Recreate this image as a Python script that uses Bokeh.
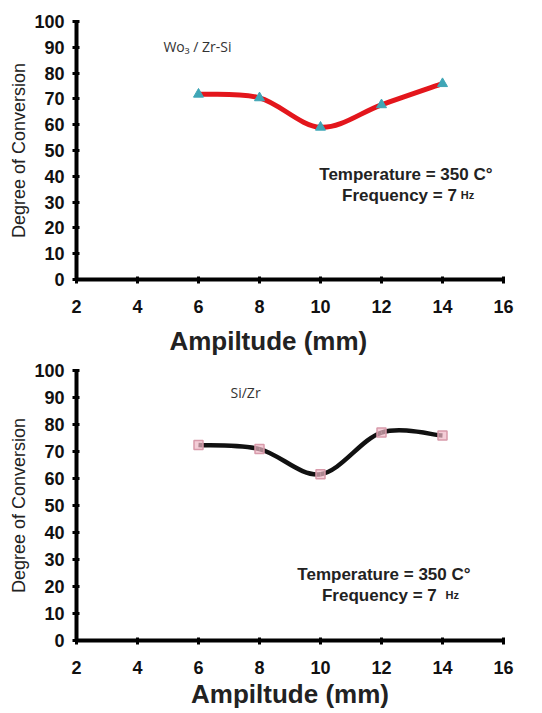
from bokeh.plotting import figure
from bokeh.layouts import column
from bokeh.models import Label, SingleIntervalTicker, Range1d
from bokeh.embed import file_html
from bokeh.resources import INLINE

# ---- data ----
amplitude = [6, 8, 10, 12, 14]
conv_wo3 = [71.8, 70.4, 59.0, 67.7, 75.9]
conv_sizr = [72.4, 70.9, 61.6, 77.0, 75.9]
x_ticks_interval = 2
y_ticks_interval = 10
x_title = "Ampiltude (mm)"
y_title = "Degree of Conversion"


def bezier_segments(xs, ys):
    """Catmull-Rom style smooth segments (like a spreadsheet 'smoothed line')."""
    n = len(xs)
    seg = dict(x0=[], y0=[], x1=[], y1=[], cx0=[], cy0=[], cx1=[], cy1=[])
    for i in range(n - 1):
        ip = max(i - 1, 0)
        inn = min(i + 2, n - 1)
        seg["x0"].append(xs[i]); seg["y0"].append(ys[i])
        seg["x1"].append(xs[i + 1]); seg["y1"].append(ys[i + 1])
        seg["cx0"].append(xs[i] + (xs[i + 1] - xs[ip]) / 6.0)
        seg["cy0"].append(ys[i] + (ys[i + 1] - ys[ip]) / 6.0)
        seg["cx1"].append(xs[i + 1] - (xs[inn] - xs[i]) / 6.0)
        seg["cy1"].append(ys[i + 1] - (ys[inn] - ys[i]) / 6.0)
    return seg


def make_fig(height, bl, br, bt, bb, xlabel, xlabel_standoff):
    p = figure(width=542, height=height, output_backend="svg", toolbar_location=None,
               x_range=Range1d(2, 16), y_range=Range1d(0, 100),
               min_border_left=bl, min_border_right=br, min_border_top=bt, min_border_bottom=bb)
    p.outline_line_color = None
    p.grid.visible = False
    p.background_fill_color = "white"
    p.border_fill_color = "white"
    for ax in (p.xaxis[0], p.yaxis[0]):
        ax.axis_line_width = 4
        ax.axis_line_color = "black"
        ax.major_tick_line_width = 3
        ax.major_tick_in = 3
        ax.major_tick_out = 4
        ax.minor_tick_line_color = None
        ax.major_label_text_font = "Liberation Sans"
        ax.major_label_text_font_style = "bold"
        ax.major_label_text_font_size = "18px"
        ax.major_label_text_color = "#111111"
    p.xaxis.ticker = SingleIntervalTicker(interval=x_ticks_interval)
    p.yaxis.ticker = SingleIntervalTicker(interval=y_ticks_interval)
    p.xaxis.major_label_standoff = 16
    p.yaxis.major_label_standoff = 8
    p.xaxis.axis_label = xlabel
    p.xaxis.axis_label_text_font = "Liberation Sans"
    p.xaxis.axis_label_text_font_style = "bold"
    p.xaxis.axis_label_text_font_size = "26px"
    p.xaxis.axis_label_text_color = "#222222"
    p.xaxis.axis_label_standoff = xlabel_standoff
    p.yaxis.axis_label = y_title
    p.yaxis.axis_label_text_font = "Liberation Sans"
    p.yaxis.axis_label_text_font_style = "normal"
    p.yaxis.axis_label_text_font_size = "18px"
    p.yaxis.axis_label_text_color = "#222222"
    p.yaxis.axis_label_standoff = 2
    return p


def add_texts(p, tag, tag_x, tag_y, tx, ty, fx, fy, hx):
    p.add_layout(Label(x=tag_x, y=tag_y, text=tag, text_font="Open Sans",
                       text_font_size="14px", text_color="#333333",
                       text_baseline="middle", text_align="left"))
    p.add_layout(Label(x=tx, y=ty, text="Temperature = 350 C°", text_font="Liberation Sans",
                       text_font_style="bold", text_font_size="17px", text_color="#222222",
                       text_baseline="middle", text_align="center"))
    p.add_layout(Label(x=fx, y=fy, text="Frequency = 7", text_font="Liberation Sans",
                       text_font_style="bold", text_font_size="17px", text_color="#222222",
                       text_baseline="middle", text_align="center"))
    p.add_layout(Label(x=hx, y=fy, text="Hz", text_font="Liberation Sans",
                       text_font_style="bold", text_font_size="11px", text_color="#222222",
                       text_baseline="middle", text_align="left"))


# ---- top chart ----
p1 = make_fig(360, 74, 31, 21, 81, x_title + "\u00a0" * 6, 10)
s1 = bezier_segments(amplitude, conv_wo3)
p1.bezier(x0="x0", y0="y0", x1="x1", y1="y1", cx0="cx0", cy0="cy0", cx1="cx1", cy1="cy1",
          source=s1, line_color="#e3161c", line_width=5)
p1.scatter(amplitude, conv_wo3, marker="triangle", size=10, fill_color="#3fa6b6",
           line_color="#3fa6b6")
add_texts(p1, "Wo\u2083 / Zr-Si", 4.85, 90.3, 12.8, 40.7, 12.59, 32.6, 14.6)

# ---- bottom chart ----
p2 = make_fig(353, 76, 39, 10, 73, x_title, 2)
s2 = bezier_segments(amplitude, conv_sizr)
p2.bezier(x0="x0", y0="y0", x1="x1", y1="y1", cx0="cx0", cy0="cy0", cx1="cx1", cy1="cy1",
          source=s2, line_color="#111111", line_width=4.5)
p2.scatter(amplitude, conv_sizr, marker="square", size=9, fill_color="#f0b8c6",
           fill_alpha=0.7, line_color="#d89aaa", line_width=1.5)
add_texts(p2, "Si/Zr", 7.05, 91.9, 12.08, 24.6, 11.93, 16.7, 14.1)

layout = column(p1, p2, spacing=0)
open("out.html", "w").write(file_html(layout, INLINE))
